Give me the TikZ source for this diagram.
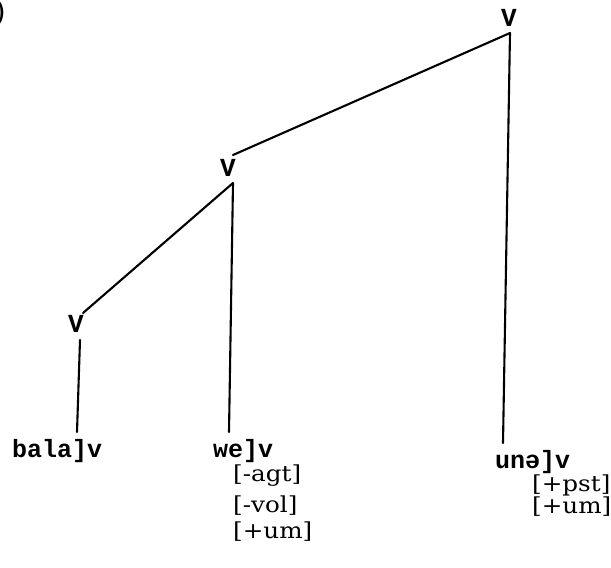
\documentclass[tikz,border=0pt]{standalone}
\usepackage{fontspec}
\newfontfamily\monob{Liberation Mono}[BoldFont={* Bold}]
\newfontfamily\featfont{DejaVu Serif}
\newcommand{\featbox}[1]{\scalebox{1.12}[1]{#1}}
\begin{document}
\begin{tikzpicture}[x=1pt,y=-1pt,
  cat/.style={font=\monob\bfseries\fontsize{26}{26}\selectfont, inner sep=0pt},
  word/.style={font=\monob\bfseries\fontsize{25}{25}\selectfont, inner sep=0pt, anchor=base west},
  feat/.style={font=\featfont\fontsize{22}{22}\selectfont, inner sep=0pt, anchor=west},
  branch/.style={line width=2.1pt, line cap=round}]
\useasboundingbox (0,0) rectangle (611,568);
\begin{scope}
\clip (0,0) rectangle (611,568);
\node[font=\fontsize{30}{30}\selectfont\bfseries, inner sep=0pt, anchor=east] (num) at (7,13) {)};
\end{scope}
% category labels
\node[cat] (v1) at (509,18) {V};
\node[cat] (v2) at (228,168) {V};
\node[cat] (v3) at (76,324) {V};
% junctions
\coordinate (j1) at (510,33);
\coordinate (j2t) at (233,155);
\coordinate (j2) at (233,183);
\coordinate (j3t) at (83,313);
\coordinate (j3) at (80,340);
\coordinate (e1) at (503,443);
\coordinate (e2) at (229,432);
\coordinate (e3) at (77,432);
% words
\node[word] (w1) at (12,457) {bala]v};
\node[word] (w2) at (213,457) {we]v};
\node[word] (w3) at (495,468) {unə]v};
% features
\node[feat] (f21) at (233,476) {\featbox{[-agt]}};
\node[feat] (f22) at (233,506) {\featbox{[-vol]}};
\node[feat] (f23) at (233,532) {\featbox{[+um]}};
\node[feat] (f31) at (532,485) {\featbox{[+pst]}};
\node[feat] (f32) at (532,507) {\featbox{[+um]}};
% branches
\draw[branch] (j1) -- (j2t);
\draw[branch] (j1) -- (e1);
\draw[branch] (j2) -- (j3t);
\draw[branch] (j2) -- (e2);
\draw[branch] (j3) -- (e3);
\end{tikzpicture}
\end{document}
